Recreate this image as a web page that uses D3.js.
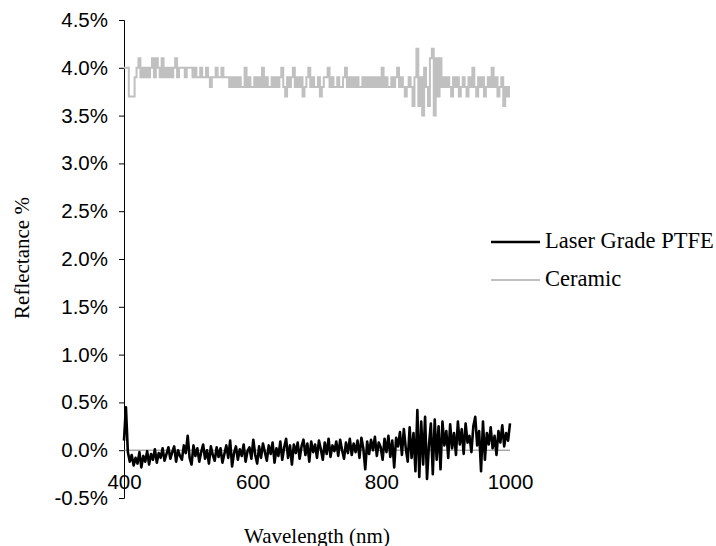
<!DOCTYPE html>
<html>
<head>
<meta charset="utf-8">
<script src="https://cdn.jsdelivr.net/npm/d3@7"></script>
<style>
  body { margin: 0; background: #fff; }
</style>
</head>
<body>
<svg id="chart" width="716" height="546"></svg>
<script>
// wavelength grid (nm), one reading every 3 nm
const wlStart = 400;
const wlStep = 3;

// reflectance readings, in %
const ceramic = [
  4.0, 4.0, 4.0, 3.7, 3.7, 3.7, 3.9, 4.0, 4.1, 3.9,
  4.0, 3.9, 4.0, 3.9, 4.0, 4.1, 3.9, 4.1, 4.0, 3.9,
  4.1, 3.9, 4.0, 3.9, 4.0, 3.9, 4.0, 4.1, 3.9, 4.0,
  4.0, 4.0, 3.9, 4.0, 4.0, 4.0, 3.9, 4.0, 3.9, 3.9,
  4.0, 3.9, 3.9, 4.0, 3.9, 3.8, 3.9, 3.9, 4.0, 3.9,
  3.9, 4.0, 3.9, 3.9, 3.9, 3.8, 3.9, 3.8, 3.9, 3.8,
  3.9, 3.8, 3.8, 4.0, 3.8, 3.9, 3.8, 3.8, 3.9, 3.8,
  3.9, 3.8, 4.0, 3.8, 3.9, 3.8, 3.8, 3.9, 3.8, 3.9,
  3.8, 3.9, 4.0, 3.8, 3.7, 3.9, 3.8, 3.9, 4.0, 3.8,
  3.9, 3.8, 3.9, 3.7, 3.8, 3.9, 4.0, 3.8, 3.9, 3.8,
  3.8, 3.9, 3.7, 3.8, 3.9, 3.9, 4.0, 3.8, 3.9, 3.8,
  3.8, 3.9, 3.8, 3.8, 3.9, 4.0, 3.8, 3.9, 3.8, 3.9,
  3.8, 3.9, 3.8, 3.8, 3.9, 3.8, 3.9, 3.8, 3.9, 3.8,
  3.9, 3.8, 3.9, 3.8, 4.0, 3.8, 3.9, 3.8, 3.8, 3.9,
  3.8, 3.9, 4.0, 3.8, 3.9, 3.8, 3.7, 3.8, 3.9, 3.8,
  3.6, 3.9, 4.2, 3.6, 3.9, 3.5, 4.0, 3.8, 3.6, 4.1,
  4.2, 3.5, 4.1, 3.7, 4.1, 3.8, 3.9, 3.8, 3.9, 3.8,
  3.7, 3.9, 3.8, 3.9, 3.7, 3.8, 3.9, 3.8, 3.7, 3.9,
  3.8, 4.0, 3.8, 3.7, 3.9, 3.8, 3.9, 3.7, 3.8, 3.9,
  3.8, 4.0, 3.8, 3.9, 3.7, 3.8, 3.9, 3.6, 3.8, 3.7,
  3.8
];

const ptfe = [
  0.10, 0.45, -0.02, -0.12, -0.05, -0.16, -0.08, -0.14, -0.02, -0.18,
  -0.06, -0.12, -0.01, -0.15, -0.04, -0.10, 0.01, -0.13, -0.03, -0.08,
  0.02, -0.11, -0.04, 0.03, -0.09, -0.02, 0.04, -0.12, 0.00, -0.06,
  -0.10, 0.05, -0.03, 0.15, -0.08, -0.15, 0.05, -0.06, 0.02, -0.12,
  -0.02, 0.06, -0.09, 0.00, -0.14, 0.04, -0.05, -0.11, 0.03, -0.07,
  0.02, -0.13, -0.04, 0.05, -0.08, 0.10, -0.17, -0.03, 0.04, -0.10,
  0.01, -0.06, 0.06, -0.12, -0.01, 0.03, -0.09, 0.11, -0.05, -0.14,
  0.04, -0.08, 0.07, -0.02, -0.11, 0.05, -0.04, 0.08, -0.13, 0.02,
  -0.06, 0.09, -0.10, 0.03, 0.12, -0.08, 0.05, -0.15, 0.06, -0.03,
  0.08, -0.09, 0.04, 0.11, -0.05, 0.07, -0.12, 0.09, -0.02, 0.06,
  -0.08, 0.10, 0.01, -0.10, 0.08, -0.04, 0.12, -0.07, 0.05, -0.01,
  0.09, -0.06, 0.11, 0.00, -0.09, 0.08, -0.03, 0.12, -0.05, 0.07,
  -0.02, 0.10, -0.08, 0.13, 0.02, -0.20, 0.09, -0.04, 0.11, 0.00,
  0.14, -0.06, 0.08, 0.03, -0.10, 0.12, -0.02, 0.15, -0.07, 0.10,
  -0.18, 0.13, 0.04, 0.19, -0.05, 0.22, 0.02, -0.12, 0.24, -0.08,
  0.18, -0.22, 0.42, -0.28, 0.30, -0.15, 0.35, -0.30, 0.05, 0.28,
  -0.25, 0.32, -0.10, 0.25, -0.20, 0.30, 0.05, 0.20, -0.08, 0.27,
  0.02, 0.18, -0.05, 0.30, 0.06, 0.22, -0.04, 0.28, 0.08, 0.15,
  -0.02, 0.25, 0.35, 0.05, 0.20, -0.22, 0.30, -0.10, 0.18, 0.06,
  0.24, 0.02, 0.15, -0.05, 0.20, 0.08, 0.26, 0.04, 0.18, 0.10,
  0.28
];

const xTicks = [400, 600, 800, 1000];
const yTicks = [-0.5, 0, 0.5, 1, 1.5, 2, 2.5, 3, 3.5, 4, 4.5];
const seriesNames = ["Laser Grade PTFE", "Ceramic"];
const seriesColors = ["#000000", "#c0c0c0"];

const sansFont = "'Liberation Sans', monospace";
const serifFont = "'Liberation Serif', monospace";

const plot = {left: 124, right: 510, top: 20, bottom: 498};

const svg = d3.select("#chart");

const x = d3.scaleLinear()
    .domain([400, 1000])
    .range([plot.left, plot.right]);

const y = d3.scaleLinear()
    .domain([-0.5, 4.5])
    .range([plot.bottom, plot.top]);

const toPoints = (vals) => vals.map((v, i) => ({wl: wlStart + i * wlStep, v: v}));

// y axis
const yAxis = svg.append("g")
    .attr("transform", `translate(${ plot.left },0)`)
    .call(d3.axisLeft(y)
      .tickValues(yTicks)
      .tickSize(5)
      .tickPadding(11)
      .tickFormat((d) => d.toFixed(1) + "%"));
yAxis.attr("font-family", null);
yAxis.selectAll("text")
    .style("font-family", sansFont)
    .style("font-size", "20.5px")
    .attr("fill", "#000");
yAxis.selectAll("line, path").attr("stroke", "#000");

// zero line acting as x axis
svg.append("line")
    .attr("x1", x(400)).attr("x2", x(1000))
    .attr("y1", y(0)).attr("y2", y(0))
    .attr("stroke", "#808080")
    .attr("stroke-width", 1);

const xAxis = svg.append("g")
    .attr("transform", `translate(0,${ y(0) })`)
    .call(d3.axisBottom(x)
      .tickValues(xTicks)
      .tickSize(0)
      .tickPadding(24)
      .tickFormat(d3.format("d")));
xAxis.attr("font-family", null);
xAxis.select(".domain").remove();
xAxis.selectAll("text")
    .style("font-family", sansFont)
    .style("font-size", "20.5px")
    .attr("fill", "#000");

// series
const line = d3.line()
    .x((d) => x(d.wl))
    .y((d) => y(d.v));

svg.append("path")
    .datum(toPoints(ceramic))
    .attr("fill", "none")
    .attr("stroke", seriesColors[1])
    .attr("stroke-width", 2)
    .attr("d", line.curve(d3.curveStep));

svg.append("path")
    .datum(toPoints(ptfe))
    .attr("fill", "none")
    .attr("stroke", seriesColors[0])
    .attr("stroke-width", 2.6)
    .attr("stroke-linejoin", "round")
    .attr("d", line.curve(d3.curveLinear));

// axis titles
svg.append("text")
    .attr("transform", `translate(29,258) rotate(-90)`)
    .attr("text-anchor", "middle")
    .style("font-family", serifFont)
    .style("font-size", "21px")
    .text("Reflectance %");

svg.append("text")
    .attr("x", 317)
    .attr("y", 543)
    .attr("text-anchor", "middle")
    .style("font-family", serifFont)
    .style("font-size", "21px")
    .text("Wavelength (nm)");

// legend
const legend = svg.append("g");
seriesNames.forEach((name, i) => {
  const ly = 242 + i * 38;
  legend.append("line")
      .attr("x1", 491).attr("x2", 540)
      .attr("y1", ly).attr("y2", ly)
      .attr("stroke", seriesColors[i])
      .attr("stroke-width", i === 0 ? 2.5 : 2);
  legend.append("text")
      .attr("x", 545)
      .attr("y", ly + 6)
      .style("font-family", serifFont)
      .style("font-size", "22.5px")
      .text(name);
});
</script>
</body>
</html>
